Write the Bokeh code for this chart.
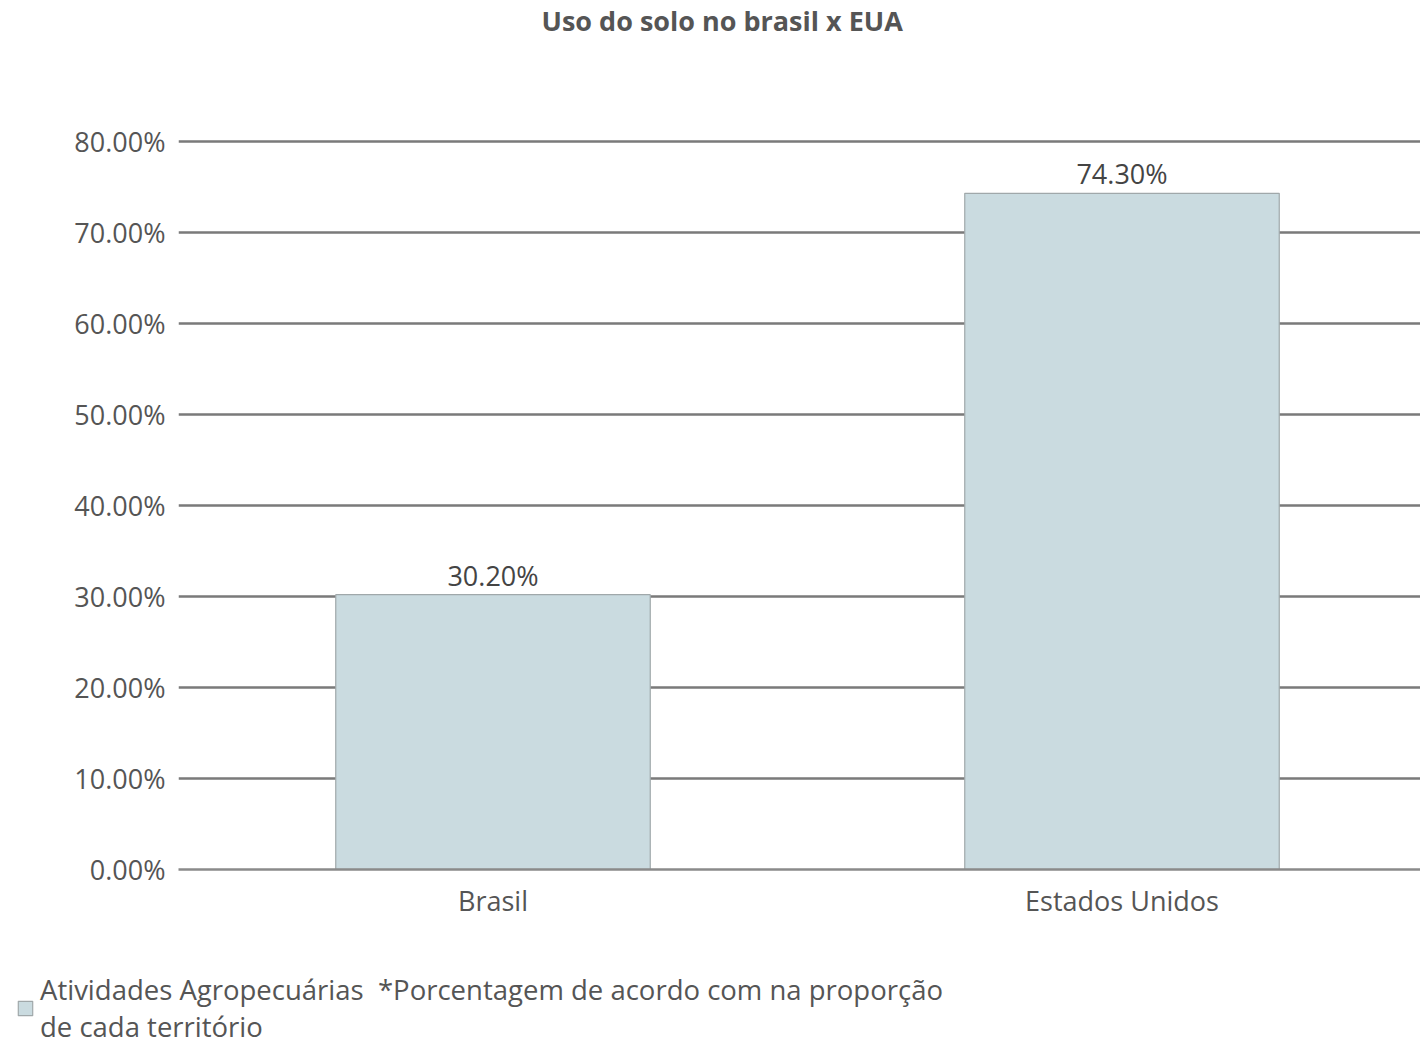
from bokeh.plotting import figure
from bokeh.layouts import column
from bokeh.models import (ColumnDataSource, Range1d, FixedTicker, NumeralTickFormatter,
                          LabelSet, Legend, LegendItem)
from bokeh.core.properties import value
from bokeh.embed import file_html
from bokeh.resources import INLINE

title_text = "Uso do solo no brasil x EUA"
categories = ["Brasil", "Estados Unidos"]
values = [0.302, 0.743]
series_name = "Atividades Agropecuárias  *Porcentagem de acordo com na proporção\nde cada território"
y_ticks = [0.0, 0.1, 0.2, 0.3, 0.4, 0.5, 0.6, 0.7, 0.8]

FONT = "Open Sans"
TEXT = "#555555"
BAR = "#cadbe0"
BAR_LINE = "#a0a8aa"

W = 1420
H_MAIN, H_LEG = 962, 83
LEFT, TOP, ZERO_Y = 178, 40, 869
PX_PER_UNIT_Y = 910
PX_PER_CAT = 629

xs = [i + 0.5 for i in range(len(categories))]
src = ColumnDataSource(dict(x=xs, top=values, lbl=[f"{v:.2%}" for v in values]))

p = figure(width=W, height=H_MAIN, output_backend="svg", toolbar_location=None,
           x_range=Range1d(0, (W - LEFT) / PX_PER_CAT),
           y_range=Range1d(0, (ZERO_Y - TOP) / PX_PER_UNIT_Y),
           min_border_left=LEFT, min_border_right=0, min_border_top=TOP,
           min_border_bottom=H_MAIN - ZERO_Y, title=title_text)
p.outline_line_color = None
p.background_fill_color = "white"
p.frame_align = False

p.title.align = "left"
p.title.offset = 541 - LEFT
p.title.vertical_align = "top"
p.title.text_font = FONT
p.title.text_font_size = "27px"
p.title.text_font_style = "bold"
p.title.text_color = TEXT
p.title.standoff = 0

bars = p.vbar(x="x", top="top", width=0.5, bottom=0, source=src,
              fill_color=BAR, line_color=BAR_LINE, line_width=1.2)

labels = LabelSet(x="x", y="top", text="lbl", source=src, text_align="center",
                  text_baseline="bottom", y_offset=1, text_font=value(FONT),
                  text_font_size="27px", text_color="#444444")
p.add_layout(labels)

p.xgrid.visible = False
p.ygrid.ticker = FixedTicker(ticks=y_ticks)
p.ygrid.grid_line_color = "#7a7a7a"
p.ygrid.grid_line_width = 2.5

p.yaxis.ticker = FixedTicker(ticks=y_ticks)
p.yaxis.formatter = NumeralTickFormatter(format="0.00%")
p.yaxis.axis_line_color = None
p.yaxis.major_tick_line_color = None
p.yaxis.minor_tick_line_color = None
p.yaxis.major_label_standoff = 7
p.yaxis.major_label_text_font = FONT
p.yaxis.major_label_text_font_size = "27px"
p.yaxis.major_label_text_color = TEXT

p.xaxis.ticker = FixedTicker(ticks=xs)
p.xaxis.major_label_overrides = {x: c for x, c in zip(xs, categories)}
p.xaxis.axis_line_color = "#8a8a8a"
p.xaxis.axis_line_width = 2.5
p.xaxis.major_tick_line_color = None
p.xaxis.minor_tick_line_color = None
p.xaxis.major_label_standoff = 6
p.xaxis.major_label_text_font = FONT
p.xaxis.major_label_text_font_size = "27px"
p.xaxis.major_label_text_color = TEXT

# legend strip below the chart
lg = figure(width=W, height=H_LEG, output_backend="svg", toolbar_location=None,
            x_range=Range1d(10, 11), y_range=Range1d(10, 11),
            min_border=0, min_border_left=0, min_border_right=0,
            min_border_top=0, min_border_bottom=0)
lg.frame_align = False
lg.axis.visible = False
lg.grid.visible = False
lg.outline_line_color = None
key = lg.vbar(x="x", top="top", width=0.5, bottom=0, source=src,
              fill_color=BAR, line_color=BAR_LINE, line_width=1.2)

legend = Legend(items=[LegendItem(label=series_name, renderers=[key])],
                location=(16, 0))
legend.border_line_color = None
legend.background_fill_alpha = 0
legend.glyph_width = 18
legend.glyph_height = 18
legend.label_text_font = FONT
legend.label_text_font_size = "27.5px"
legend.label_text_color = TEXT
legend.label_standoff = 6
legend.padding = 0
legend.margin = 0
lg.add_layout(legend, "center")

layout = column(p, lg, spacing=0)
open("out.html", "w").write(file_html(layout, INLINE))
